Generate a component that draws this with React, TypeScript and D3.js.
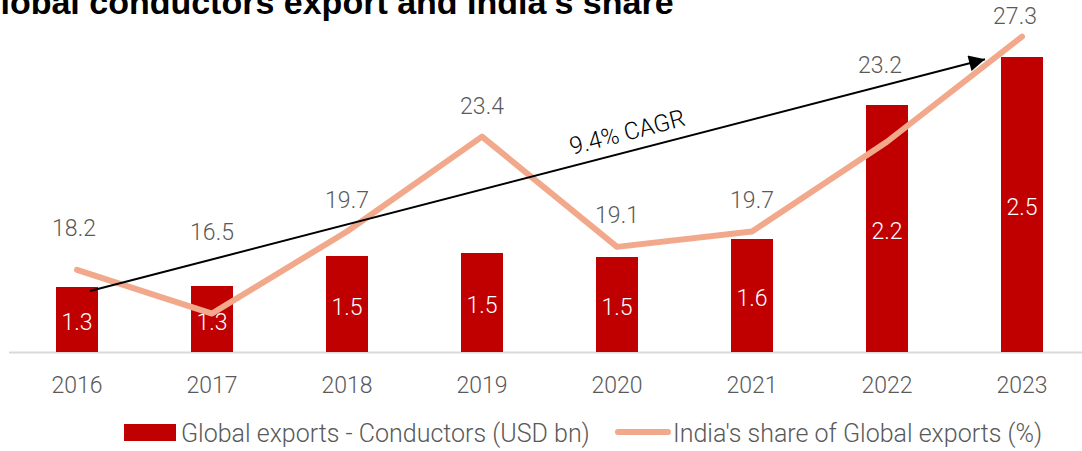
import React from "react";
import * as d3 from "d3";

const years = ["2016", "2017", "2018", "2019", "2020", "2021", "2022", "2023"];
const globalExports = [1.325, 1.33, 1.48, 1.495, 1.475, 1.565, 2.235, 2.475];
const indiaShare = [18.2, 16.5, 19.7, 23.4, 19.1, 19.7, 23.2, 27.3];
const cagrLabel = "9.4% CAGR";
const titleText = "Global conductors export and India's share";
const legendBar = "Global exports - Conductors (USD bn)";
const legendLine = "India's share of Global exports (%)";

// label layout tweaks (pixels)
const shareLabelDy = [-41, -81, -31, -30, -31, -31, -76, -20];
const shareLabelDx = [-3, 0, 0, 0, 0, 0, -7, -7];

const W = 1082;
const H = 451;
const baseY = 352;
const FONT = "Roboto, 'Segoe UI', sans-serif";

export default function App() {
  const x = d3.scalePoint<string>().domain(years).range([9.5, 1089.5]).padding(0.5);
  const step = x.step();
  const barW = step * 0.311;
  const yBar = d3.scaleLinear().domain([1, 2.5]).range([baseY, 52]);
  const yLine = d3.scaleLinear().domain([15, 30]).range([baseY, baseY - 15 * 25.64]);
  const fmt = d3.format(".1f");

  const line = d3
    .line<number>()
    .x((_, i) => x(years[i]) as number)
    .y((d) => yLine(d));

  const x0 = (x(years[0]) as number) + 13;
  const y0 = yBar(globalExports[0]) + 4;
  const x1 = (x(years[years.length - 1]) as number) - 36;
  const y1 = yBar(globalExports[globalExports.length - 1]) + 2;
  const ang = (Math.atan2(y1 - y0, x1 - x0) * 180) / Math.PI;
  const tx = 632;
  const ty = y0 + ((tx - x0) * (y1 - y0)) / (x1 - x0);

  return (
    <svg
      width={W}
      height={H}
      style={{ position: "absolute", left: 0, top: 0, background: "#fff" }}
    >
      <defs>
        <marker
          id="arrow"
          viewBox="0 0 10 10"
          refX="10"
          refY="5"
          markerWidth="9"
          markerHeight="8"
          markerUnits="strokeWidth"
          orient="auto"
        >
          <path d="M0,0 L10,5 L0,10 z" fill="#000" />
        </marker>
      </defs>

      <text
        x={-26}
        y={14}
        fontFamily="'Liberation Sans', Arial, sans-serif"
        fontWeight="bold"
        fontSize={34}
        fill="#000"
      >
        {titleText}
      </text>

      {/* axis line */}
      <line x1={9} x2={W} y1={baseY + 0.5} y2={baseY + 0.5} stroke="#d9d9d9" strokeWidth={2} />

      {/* bars */}
      {globalExports.map((v, i) => (
        <rect
          key={years[i]}
          x={(x(years[i]) as number) - barW / 2}
          y={yBar(v)}
          width={barW}
          height={baseY - yBar(v)}
          fill="#C00000"
        />
      ))}
      {globalExports.map((v, i) => (
        <text
          key={"bl" + i}
          x={x(years[i]) as number}
          y={(yBar(v) + baseY) / 2 + 3}
          textAnchor="middle"
          dominantBaseline="central"
          fontFamily={FONT}
          fontWeight={300}
          fontSize={23}
          fill="#fff"
        >
          {fmt(v)}
        </text>
      ))}

      {/* share line */}
      <path
        d={line(indiaShare) || ""}
        fill="none"
        stroke="#F2A98B"
        strokeWidth={6}
        strokeLinejoin="round"
        strokeLinecap="round"
      />

      {indiaShare.map((v, i) => (
        <text
          key={"ll" + i}
          x={(x(years[i]) as number) + shareLabelDx[i]}
          y={yLine(v) + shareLabelDy[i]}
          textAnchor="middle"
          dominantBaseline="central"
          fontFamily={FONT}
          fontWeight={300}
          fontSize={23}
          fill="#595959"
        >
          {fmt(v)}
        </text>
      ))}

      {/* CAGR arrow */}
      <line
        x1={x0}
        y1={y0}
        x2={x1 - 1}
        y2={y1 + 0.3}
        stroke="#000"
        strokeWidth={2}
        markerEnd="url(#arrow)"
      />
      <text
        transform={`translate(${tx},${ty}) rotate(${ang}) translate(0,-11)`}
        textAnchor="middle"
        fontFamily={FONT}
        fontWeight={300}
        fontSize={24}
        fill="#000"
      >
        {cagrLabel}
      </text>

      {/* x ticks */}
      {years.map((yr) => (
        <text
          key={"t" + yr}
          x={x(yr) as number}
          y={385}
          textAnchor="middle"
          dominantBaseline="central"
          fontFamily={FONT}
          fontWeight={300}
          fontSize={23}
          fill="#595959"
        >
          {yr}
        </text>
      ))}

      {/* legend */}
      <rect x={124} y={424} width={52} height={17} fill="#C00000" />
      <text
        x={181}
        y={433}
        dominantBaseline="central"
        fontFamily={FONT}
        fontWeight={300}
        fontSize={25}
        fill="#595959"
      >
        {legendBar}
      </text>
      <line x1={618} x2={668} y1={432} y2={432} stroke="#F2A98B" strokeWidth={6} strokeLinecap="round" />
      <text
        x={673}
        y={433}
        dominantBaseline="central"
        fontFamily={FONT}
        fontWeight={300}
        fontSize={25}
        fill="#595959"
      >
        {legendLine}
      </text>
    </svg>
  );
}
